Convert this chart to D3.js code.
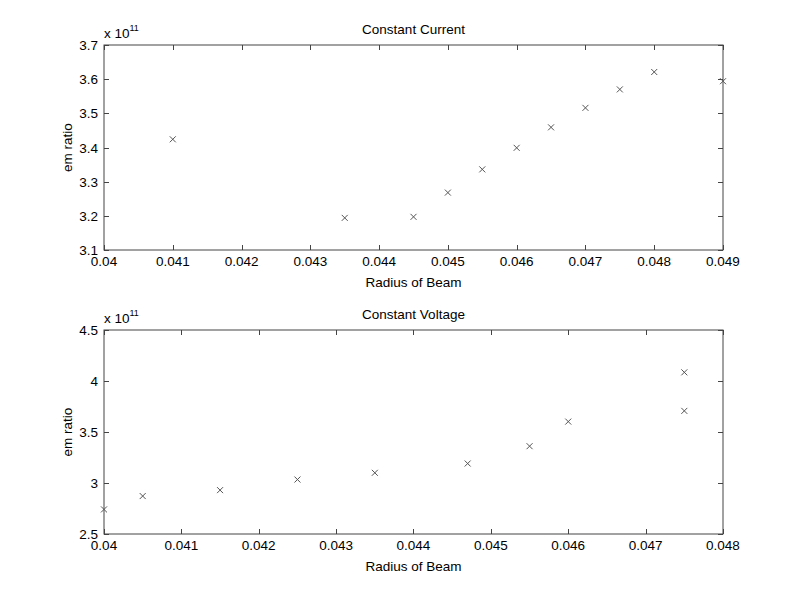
<!DOCTYPE html>
<html>
<head>
<meta charset="utf-8">
<script src="https://cdn.jsdelivr.net/npm/d3@7"></script>
<style>
  body { margin: 0; background: #fff; }
  text { font-family: "Liberation Sans", Arial, sans-serif; fill: #000; }
</style>
</head>
<body>
<div id="chart"></div>
<script>
// Data (em ratio in units of 1e11)
const currentRadius = [0.041, 0.0435, 0.0445, 0.045, 0.0455, 0.046, 0.0465, 0.047, 0.0475, 0.048, 0.049];
const currentRatio = [3.424, 3.194, 3.197, 3.268, 3.336, 3.399, 3.459, 3.516, 3.570, 3.621, 3.594];

const voltageRadius = [0.04, 0.0405, 0.0415, 0.0425, 0.0435, 0.0447, 0.0455, 0.046, 0.0475, 0.0475];
const voltageRatio = [2.741, 2.872, 2.930, 3.034, 3.100, 3.191, 3.361, 3.602, 4.085, 3.707];

const currentXTicks = [0.04, 0.041, 0.042, 0.043, 0.044, 0.045, 0.046, 0.047, 0.048, 0.049];
const currentYTicks = [3.1, 3.2, 3.3, 3.4, 3.5, 3.6, 3.7];
const voltageXTicks = [0.04, 0.041, 0.042, 0.043, 0.044, 0.045, 0.046, 0.047, 0.048];
const voltageYTicks = [2.5, 3, 3.5, 4, 4.5];

const width = 799, height = 600;
const fs = "13.5px";
const svg = d3.select("#chart").append("svg")
  .attr("width", width)
  .attr("height", height);

// draw one MATLAB style subplot
function subplot(opts) {
  const left = 104, right = 723;
  const x = d3.scaleLinear().domain(opts.xDomain).range([left, right]);
  const y = d3.scaleLinear().domain(opts.yDomain).range([opts.bottom, opts.top]);
  const g = svg.append("g");
  const tk = 5;
  const axisColor = "#444";

  g.append("rect")
    .attr("x", left).attr("y", opts.top)
    .attr("width", right - left).attr("height", opts.bottom - opts.top)
    .attr("fill", "none").attr("stroke", axisColor).attr("stroke-width", 1);

  // x ticks (bottom & top, inward)
  opts.xTicks.forEach(v => {
    const px = Math.round(x(v)) + 0.5;
    g.append("line").attr("x1", px).attr("x2", px)
      .attr("y1", opts.bottom).attr("y2", opts.bottom - tk).attr("stroke", axisColor);
    g.append("line").attr("x1", px).attr("x2", px)
      .attr("y1", opts.top).attr("y2", opts.top + tk).attr("stroke", axisColor);
    g.append("text").attr("x", x(v)).attr("y", opts.bottom + 16)
      .attr("text-anchor", "middle").style("font-size", fs)
      .text(opts.xFmt(v));
  });

  // y ticks (left & right, inward)
  opts.yTicks.forEach(v => {
    const py = Math.round(y(v)) + 0.5;
    g.append("line").attr("x1", left).attr("x2", left + tk)
      .attr("y1", py).attr("y2", py).attr("stroke", axisColor);
    g.append("line").attr("x1", right).attr("x2", right - tk)
      .attr("y1", py).attr("y2", py).attr("stroke", axisColor);
    g.append("text").attr("x", left - 6).attr("y", y(v) + 5)
      .attr("text-anchor", "end").style("font-size", fs)
      .text(opts.yFmt(v));
  });

  // exponent label
  const ex = g.append("text").attr("x", left).attr("y", opts.top - 7)
    .style("font-size", fs);
  ex.append("tspan").text("x 10");
  ex.append("tspan").attr("dy", -7).style("font-size", "9px").text("11");

  // title
  g.append("text").attr("x", (left + right) / 2).attr("y", opts.top - 11)
    .attr("text-anchor", "middle").style("font-size", fs)
    .text(opts.title);

  // axis labels
  g.append("text").attr("x", (left + right) / 2).attr("y", opts.bottom + 37)
    .attr("text-anchor", "middle").style("font-size", fs)
    .text("Radius of Beam");
  g.append("text")
    .attr("transform", "translate(72," + ((opts.top + opts.bottom) / 2) + ") rotate(-90)")
    .attr("text-anchor", "middle").style("font-size", fs)
    .text("em ratio");

  // x markers
  const s = 3;
  g.selectAll("path.mark")
    .data(opts.xs.map((d, i) => [d, opts.ys[i]]))
    .enter().append("path")
    .attr("class", "mark")
    .attr("d", d => {
      const cx = x(d[0]), cy = y(d[1]);
      return `M${cx - s},${cy - s}L${cx + s},${cy + s}M${cx - s},${cy + s}L${cx + s},${cy - s}`;
    })
    .attr("stroke", "#555").attr("stroke-width", 1).attr("fill", "none");
}

subplot({
  title: "Constant Current",
  top: 45, bottom: 250,
  xDomain: [0.04, 0.049], yDomain: [3.1, 3.7],
  xTicks: currentXTicks, yTicks: currentYTicks,
  xFmt: d3.format(".3~f"), yFmt: d3.format(".1f"),
  xs: currentRadius, ys: currentRatio
});

subplot({
  title: "Constant Voltage",
  top: 330, bottom: 534,
  xDomain: [0.04, 0.048], yDomain: [2.5, 4.5],
  xTicks: voltageXTicks, yTicks: voltageYTicks,
  xFmt: d3.format(".3~f"), yFmt: d3.format("~g"),
  xs: voltageRadius, ys: voltageRatio
});
</script>
</body>
</html>
